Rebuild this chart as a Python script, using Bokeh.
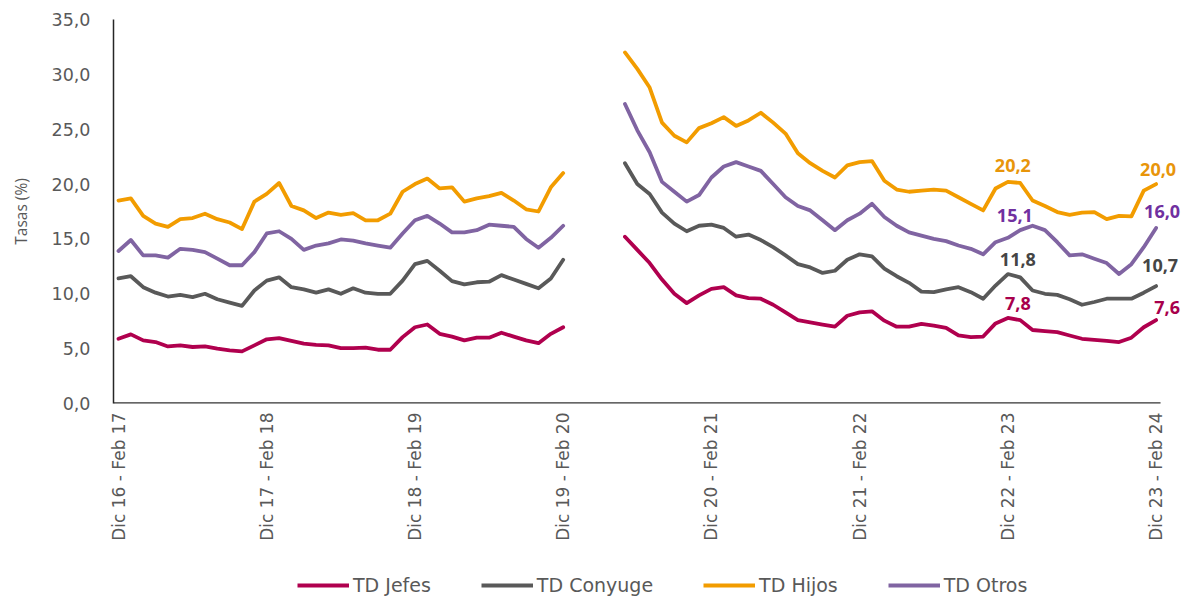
import math
from bokeh.plotting import figure
from bokeh.layouts import column
from bokeh.core.properties import value
from bokeh.models import (ColumnDataSource, FixedTicker, CustomJSTickFormatter, Legend,
                          LegendItem, LabelSet, Range1d)
from bokeh.embed import file_html
from bokeh.resources import INLINE

nan = float("nan")

# month index of each rolling quarter (0 = Dic 16 - Feb 17 ... 84 = Dic 23 - Feb 24)
month_index = list(range(85))

tick_positions = [0, 12, 24, 36, 48, 60, 72, 84]
tick_labels = ["Dic 16 - Feb 17", "Dic 17 - Feb 18", "Dic 18 - Feb 19", "Dic 19 - Feb 20",
               "Dic 20 - Feb 21", "Dic 21 - Feb 22", "Dic 22 - Feb 23", "Dic 23 - Feb 24"]

gap = [nan, nan, nan, nan]

td_jefes = [5.9, 6.3, 5.75, 5.6, 5.2, 5.3, 5.15, 5.2, 5.0, 4.85,
            4.75, 5.3, 5.85, 5.95, 5.7, 5.45, 5.35, 5.3, 5.05, 5.05,
            5.1, 4.9, 4.9, 6.05, 6.95, 7.2, 6.35, 6.1, 5.75, 6.0,
            6.0, 6.45, 6.1, 5.75, 5.5, 6.35, 6.95] + gap + [
            15.2, 14.0, 12.8, 11.3, 10.0, 9.15, 9.85, 10.45, 10.6, 9.85,
            9.6, 9.55, 9.0, 8.3, 7.6, 7.4, 7.2, 7.0, 8.0, 8.3,
            8.4, 7.55, 7.0, 7.0, 7.25, 7.1, 6.9, 6.2, 6.05, 6.1,
            7.3, 7.8, 7.6, 6.7, 6.6, 6.5, 6.2, 5.9, 5.8, 5.7,
            5.6, 6.0, 6.95, 7.6]

td_conyuge = [11.4, 11.6, 10.6, 10.1, 9.75, 9.9, 9.7, 10.0, 9.5, 9.2,
              8.9, 10.3, 11.2, 11.5, 10.6, 10.4, 10.1, 10.4, 10.0, 10.5,
              10.1, 10.0, 10.0, 11.2, 12.7, 13.0, 12.1, 11.15, 10.85, 11.05,
              11.1, 11.7, 11.3, 10.9, 10.5, 11.4, 13.1] + gap + [
              21.9, 20.0, 19.1, 17.4, 16.4, 15.7, 16.2, 16.3, 16.0, 15.2,
              15.4, 14.9, 14.25, 13.5, 12.7, 12.4, 11.9, 12.1, 13.1, 13.6,
              13.4, 12.3, 11.6, 11.0, 10.2, 10.15, 10.4, 10.6, 10.15, 9.55,
              10.75, 11.8, 11.5, 10.3, 10.0, 9.9, 9.5, 9.0, 9.25, 9.55,
              9.55, 9.55, 10.1, 10.7]

td_hijos = [18.5, 18.7, 17.1, 16.4, 16.1, 16.8, 16.9, 17.3, 16.8, 16.5,
            15.9, 18.4, 19.1, 20.1, 18.0, 17.6, 16.9, 17.4, 17.2, 17.35,
            16.7, 16.7, 17.3, 19.3, 20.0, 20.5, 19.6, 19.7, 18.4, 18.7,
            18.9, 19.2, 18.5, 17.7, 17.5, 19.7, 21.0] + gap + [
            32.0, 30.5, 28.8, 25.6, 24.4, 23.8, 25.1, 25.55, 26.1, 25.3,
            25.8, 26.5, 25.6, 24.6, 22.8, 21.9, 21.2, 20.6, 21.7, 22.0,
            22.1, 20.3, 19.5, 19.3, 19.4, 19.5, 19.4, 18.8, 18.2, 17.6,
            19.6, 20.2, 20.1, 18.5, 18.0, 17.45, 17.2, 17.4, 17.45, 16.8,
            17.1, 17.05, 19.4, 20.0]

td_otros = [13.9, 14.9, 13.5, 13.5, 13.3, 14.1, 14.0, 13.8, 13.2, 12.6,
            12.6, 13.8, 15.5, 15.7, 15.0, 14.0, 14.4, 14.6, 14.95, 14.85,
            14.6, 14.4, 14.2, 15.5, 16.7, 17.1, 16.4, 15.6, 15.6, 15.8,
            16.3, 16.2, 16.1, 15.0, 14.2, 15.1, 16.2] + gap + [
            27.3, 24.9, 22.9, 20.2, 19.3, 18.4, 19.0, 20.6, 21.6, 22.0,
            21.6, 21.2, 20.0, 18.8, 18.0, 17.6, 16.7, 15.8, 16.7, 17.3,
            18.2, 17.0, 16.2, 15.6, 15.3, 15.0, 14.8, 14.4, 14.1, 13.6,
            14.7, 15.1, 15.8, 16.2, 15.8, 14.7, 13.5, 13.6, 13.2, 12.8,
            11.8, 12.7, 14.25, 16.0]

series_names = ["TD Jefes", "TD Conyuge", "TD Hijos", "TD Otros"]
series_values = [td_jefes, td_conyuge, td_hijos, td_otros]
line_colors = ["#B0004E", "#595959", "#F29C00", "#8064A2"]
label_colors = ["#A8004C", "#454545", "#E8950A", "#7030A0"]

labeled_points = [72, 84]

FONT = "Open Sans"
WIDE = "DejaVu Sans"
TXT = "#595959"

X0, X1 = -0.405, 86.38

p = figure(frame_width=1072, frame_height=384, output_backend="svg", toolbar_location=None,
           x_range=Range1d(X0, X1), y_range=Range1d(0, 35),
           min_border_left=113, min_border_right=0, min_border_top=19,
           min_border_bottom=0, background_fill_color="white",
           border_fill_color="white", outline_line_color=None)
p.xgrid.visible = False
p.ygrid.visible = False

# x axis baseline (ends where the category axis ends)
p.segment(x0=[X0], y0=[0], x1=[84.36], y1=[0], line_color="#333333", line_width=2.5)

src = ColumnDataSource(dict(x=month_index, jefes=td_jefes, conyuge=td_conyuge,
                            hijos=td_hijos, otros=td_otros))
keys = ["jefes", "conyuge", "hijos", "otros"]
for key, col in zip(keys, line_colors):
    p.line("x", key, source=src, line_color=col, line_width=3.8,
           line_join="round", line_cap="round")

# data labels
lx, ly, lt, lc, lox, loy = [], [], [], [], [], []
x_off = {72: [10, 10, 5, 7], 84: [11, 4, 2, 6]}
y_off = {72: [14, 15, 16, 22], 84: [13, 21, 15, 16]}
for idx in labeled_points:
    for k, (vals, c) in enumerate(zip(series_values, label_colors)):
        v = vals[idx]
        lx.append(idx)
        ly.append(v)
        lt.append(("%.1f" % v).replace(".", ","))
        lc.append(c)
        lox.append(x_off[idx][k])
        loy.append(y_off[idx][k])
lsrc = ColumnDataSource(dict(x=lx, y=ly, t=lt, c=lc, ox=lox, oy=loy))
labels = LabelSet(x="x", y="y", text="t", source=lsrc, text_color="c",
                  x_offset="ox", y_offset="oy", text_align="center",
                  text_baseline="middle", text_font=value(FONT),
                  text_font_size=value("18px"), text_font_style="bold")
p.add_layout(labels)

# y axis
p.yaxis.ticker = FixedTicker(ticks=[0, 5, 10, 15, 20, 25, 30, 35])
p.yaxis.formatter = CustomJSTickFormatter(code="return tick.toFixed(1).replace('.', ',');")
p.yaxis.major_tick_line_color = None
p.yaxis.minor_tick_line_color = None
p.yaxis.major_tick_out = 0
p.yaxis.major_tick_in = 0
p.yaxis.major_label_standoff = 23
p.yaxis.major_label_text_font = WIDE
p.yaxis.major_label_text_font_size = "17.5px"
p.yaxis.major_label_text_color = TXT
p.yaxis.axis_line_color = "#262626"
p.yaxis.axis_line_width = 1.5
p.yaxis.axis_label = "Tasas (%)"
p.yaxis.axis_label_text_font = FONT
p.yaxis.axis_label_text_font_size = "15.5px"
p.yaxis.axis_label_text_font_style = "normal"
p.yaxis.axis_label_text_color = TXT
p.yaxis.axis_label_standoff = 17

# x axis
p.xaxis.ticker = FixedTicker(ticks=tick_positions)
p.xaxis.major_label_overrides = {t: l for t, l in zip(tick_positions, tick_labels)}
p.xaxis.major_label_orientation = math.pi / 2
p.xaxis.major_tick_line_color = None
p.xaxis.minor_tick_line_color = None
p.xaxis.major_tick_out = 0
p.xaxis.major_tick_in = 0
p.xaxis.major_label_standoff = 9
p.xaxis.major_label_text_font = WIDE
p.xaxis.major_label_text_font_size = "17px"
p.xaxis.major_label_text_color = TXT
p.xaxis.axis_line_color = None

# legend strip below the chart (series drawn off-frame, only their legend samples show)
leg = figure(frame_width=1072, frame_height=56, output_backend="svg", toolbar_location=None,
             x_axis_type=None, y_axis_type=None, min_border_left=113, min_border_right=0,
             min_border_top=0, min_border_bottom=0, outline_line_color=None,
             x_range=Range1d(X0, X1), y_range=Range1d(-40, -30),
             background_fill_color="white", border_fill_color="white")
leg.xgrid.visible = False
leg.ygrid.visible = False
items = []
for name, key, col in zip(series_names, keys, line_colors):
    r = leg.line("x", key, source=src, line_color=col, line_width=3.8)
    items.append(LegendItem(label=name, renderers=[r]))
legend = Legend(items=items, orientation="horizontal", location=(184, 3),
                border_line_color=None, background_fill_alpha=0,
                glyph_width=52, glyph_height=20, label_height=20,
                label_text_font=WIDE, label_text_font_size="19px",
                label_text_color=TXT, spacing=50, padding=0, margin=0,
                label_standoff=4)
leg.add_layout(legend)

layout = column(p, leg, spacing=0)
open("out.html", "w").write(file_html(layout, INLINE))
